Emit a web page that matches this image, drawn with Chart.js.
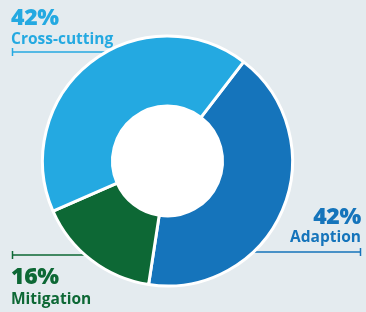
<!DOCTYPE html>
<html>
<head>
<meta charset="utf-8">
<script src="https://cdn.jsdelivr.net/npm/chart.js"></script>
<style>
    body {
        margin: 0;
        background: #e4ebef;
        font-family: "Open Sans", sans-serif;
    }
    #wrap {
        position: relative;
        width: 366px;
        height: 312px;
        overflow: hidden;
    }
    canvas {
        position: absolute;
        left: 0;
        top: 0;
    }
    .lbl {
        position: absolute;
        font-weight: 800;
        line-height: 1;
        white-space: nowrap;
    }
    .pct { font-size: 23px; letter-spacing: -0.3px; }
    .name { font-size: 15.5px; font-weight: 700; }
</style>
</head>
<body>
<div id="wrap">
    <canvas id="donut" width="366" height="312"></canvas>
</div>

<script>
    const categories = ['Adaption', 'Mitigation', 'Cross-cutting'];
    const shares = [42, 16, 42];
    const colors = ['#1574bb', '#0d6835', '#24a9e1'];

    // where each label block sits
    const labelPos = {
        'Cross-cutting': { side: 'left', x: 11, pctTop: 5, nameTop: 31, lineY: 52 },
        'Adaption':      { side: 'right', x: 5, pctTop: 204, nameTop: 229, lineY: 252 },
        'Mitigation':    { side: 'left', x: 11, pctTop: 264, nameTop: 291, lineY: 255 }
    };

    const wrap = document.getElementById('wrap');
    categories.forEach((c, i) => {
        const p = labelPos[c];
        const a = document.createElement('div');
        a.className = 'lbl pct';
        a.textContent = shares[i] + '%';
        a.style.color = colors[i];
        a.style.top = p.pctTop + 'px';
        a.style[p.side] = p.x + 'px';
        wrap.appendChild(a);
        const b = document.createElement('div');
        b.className = 'lbl name';
        b.textContent = c;
        b.style.color = colors[i];
        b.style.top = p.nameTop + 'px';
        b.style[p.side] = p.x + 'px';
        wrap.appendChild(b);
    });

    const leaders = {
        id: 'leaders',
        beforeDatasetsDraw(chart) {
            const ctx = chart.ctx;
            const arc = chart.getDatasetMeta(0).data[0];
            ctx.save();
            categories.forEach((c, i) => {
                const p = labelPos[c];
                const xEdge = p.side === 'left' ? 12.5 : 366 - p.x - 0.5;
                ctx.strokeStyle = colors[i];
                ctx.lineWidth = 1.5;
                ctx.beginPath();
                ctx.moveTo(xEdge, p.lineY);
                ctx.lineTo(arc.x, p.lineY);
                ctx.moveTo(xEdge, p.lineY - 4);
                ctx.lineTo(xEdge, p.lineY + 4);
                ctx.stroke();
            });
            // white hole
            ctx.fillStyle = '#ffffff';
            ctx.beginPath();
            ctx.arc(arc.x, arc.y, arc.innerRadius + 1, 0, Math.PI * 2);
            ctx.fill();
            ctx.restore();
        }
    };

    new Chart(document.getElementById('donut'), {
        type: 'doughnut',
        data: {
            labels: categories,
            datasets: [{
                data: shares,
                backgroundColor: colors,
                borderColor: '#ffffff',
                borderWidth: 3
            }]
        },
        options: {
            responsive: false,
            animation: false,
            rotation: 37.5,
            cutout: '44%',
            layout: {
                padding: { left: 41, top: 34.5, right: 72, bottom: 24.5 }
            },
            plugins: {
                legend: { display: false },
                tooltip: { enabled: false }
            }
        },
        plugins: [leaders]
    });
</script>
</body>
</html>
